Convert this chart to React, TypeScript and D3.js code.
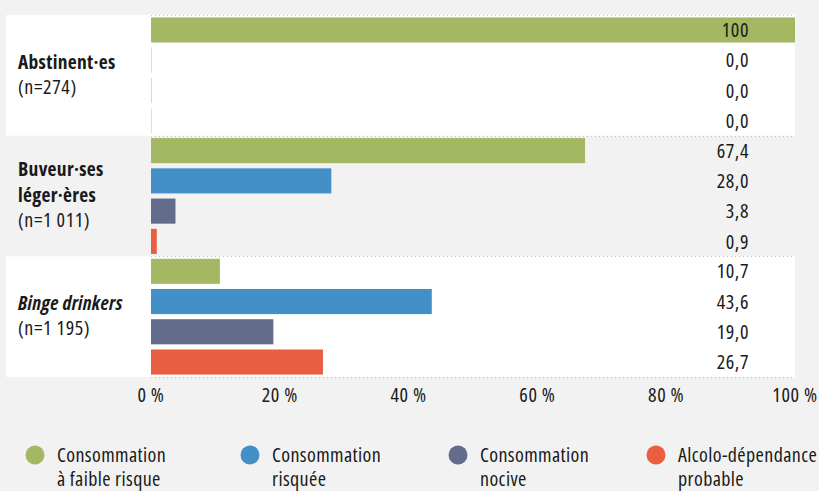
import React from "react";
import * as d3 from "d3";

const categories = ["Abstinent·es", "Buveur·ses léger·ères", "Binge drinkers"];
const categoryLines: string[][] = [
  ["Abstinent·es", "(n=274)"],
  ["Buveur·ses", "léger·ères", "(n=1 011)"],
  ["Binge drinkers", "(n=1 195)"],
];
const categoryItalic = [false, false, true];
const seriesNames = ["lowRisk", "risky", "harmful", "dependence"];
const seriesLegend: string[][] = [
  ["Consommation", "à faible risque"],
  ["Consommation", "risquée"],
  ["Consommation", "nocive"],
  ["Alcolo-dépendance", "probable"],
];
const seriesColors = ["#a4b864", "#4390c8", "#636c8a", "#e95e41"];
const lowRisk = [100, 67.4, 10.7];
const risky = [0, 28.0, 43.6];
const harmful = [0, 3.8, 19.0];
const dependence = [0, 0.9, 26.7];
const xTicks = [0, 20, 40, 60, 80, 100];

const seriesValues = [lowRisk, risky, harmful, dependence];

const W = 819;
const H = 491;
const FONT = "'Open Sans', sans-serif";
const TEXT = "#1a1a1a";
const FS = 20;
const LS = 0.6;

export default function App() {
  const x = d3.scaleLinear().domain([0, 100]).range([151, 795]);
  const y = d3.scaleBand<string>().domain(categories).range([15, 377]).paddingInner(0).paddingOuter(0);
  const yi = d3
    .scaleBand<string>()
    .domain(seriesNames)
    .range([0, y.bandwidth()])
    .paddingInner(0.17)
    .paddingOuter(0.08);
  const fmt = (v: number) => (v === 100 ? "100" : d3.format(".1f")(v).replace(".", ","));
  const legendX = [35, 250, 458, 656];

  return (
    <svg
      width={W}
      height={H}
      style={{ position: "absolute", left: 0, top: 0, background: "#f2f2f2", fontFamily: FONT, fontStretch: "75%" }}
    >
      <rect x={0} y={0} width={W} height={H} fill="#f2f2f2" />
      {categories.map((c, gi) =>
        gi % 2 === 0 ? (
          <rect key={"band" + c} x={6} y={y(c)!} width={795 - 6} height={y.bandwidth()} fill="#ffffff" />
        ) : null
      )}
      {[15, ...categories.map((c) => y(c)! + y.bandwidth())].map((yy, i) => (
        <line
          key={"dot" + i}
          x1={151}
          x2={795}
          y1={Math.round(yy) + 0.5}
          y2={Math.round(yy) + 0.5}
          stroke="#c4c4c4"
          strokeWidth={1}
          strokeDasharray="1 3"
        />
      ))}
      {categories.map((c, gi) => (
        <g key={"g" + c} transform={`translate(0,${y(c)})`}>
          {seriesNames.map((s, si) => {
            const v = seriesValues[si][gi];
            const by = yi(s)!;
            const w = x(v) - x(0);
            return (
              <g key={s}>
                {v > 0 ? (
                  <rect x={x(0)} y={by} width={w} height={yi.bandwidth()} fill={seriesColors[si]} />
                ) : (
                  <rect x={x(0)} y={by} width={1} height={yi.bandwidth()} fill={seriesColors[si]} opacity={0.25} />
                )}
                <text
                  x={749}
                  y={by + yi.bandwidth() / 2}
                  dy="0.36em"
                  textAnchor="end"
                  fontSize={FS}
                  letterSpacing={LS}
                  fill={TEXT}
                >
                  {fmt(v)}
                </text>
              </g>
            );
          })}
          {categoryLines[gi].map((line, li) => {
            const n = categoryLines[gi].length;
            const cy = y.bandwidth() / 2 + (li - (n - 1) / 2) * 25.5 + 6;
            const isTitle = li < n - 1;
            return (
              <text
                key={li}
                x={18}
                y={cy}
                fontSize={isTitle ? 19.5 : FS}
                letterSpacing={isTitle ? 0.3 : LS}
                fontWeight={isTitle ? "bold" : "normal"}
                fontStyle={isTitle && categoryItalic[gi] ? "italic" : "normal"}
                fill={TEXT}
              >
                {line}
              </text>
            );
          })}
        </g>
      ))}
      {xTicks.map((t) => (
        <text key={"t" + t} x={x(t)} y={402} textAnchor="middle" fontSize={FS} letterSpacing={LS} fill={TEXT}>
          {t + " %"}
        </text>
      ))}
      {seriesNames.map((s, si) => (
        <g key={"lg" + s} transform={`translate(${legendX[si]},455)`}>
          <circle cx={0} cy={0} r={9.5} fill={seriesColors[si]} />
          {seriesLegend[si].map((line, li) => (
            <text key={li} x={22} y={6.5 + li * 24.5} fontSize={FS} letterSpacing={0.4} fill={TEXT}>
              {line}
            </text>
          ))}
        </g>
      ))}
    </svg>
  );
}
